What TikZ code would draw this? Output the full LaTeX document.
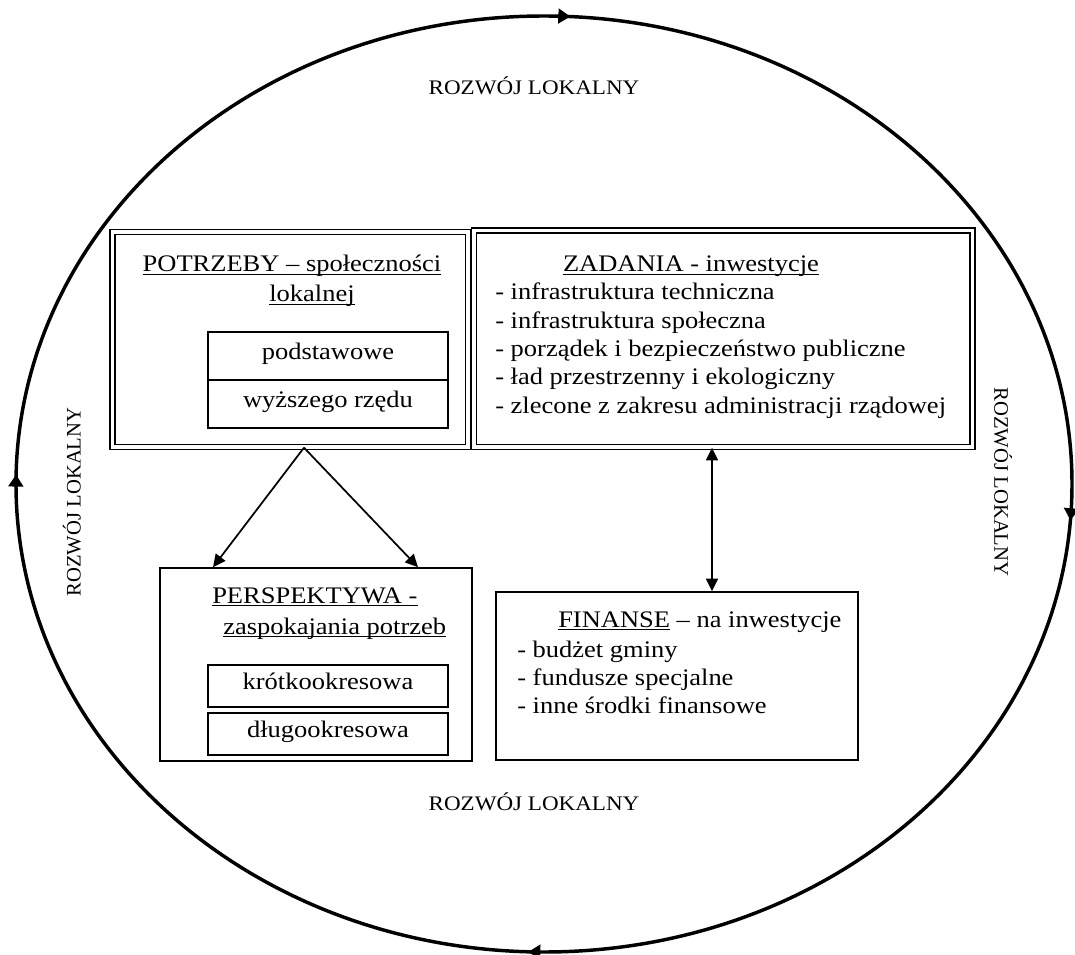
\documentclass[tikz,border=0pt]{standalone}
\usepackage{fontspec}
\setmainfont{Liberation Serif}
\newfontfamily\widefont{Liberation Serif}[FakeStretch=1.116]
\usetikzlibrary{arrows.meta,decorations.markings,calc}
\newcommand\myul[1]{{\setbox0\hbox{#1}\rlap{\rule[-2.6pt]{\wd0}{0.9pt}}\box0}}
\begin{document}
\begin{tikzpicture}[x=0.75pt,y=-0.75pt,
  boxfont/.style={font=\widefont\fontsize{17.8pt}{21pt}\selectfont},
  rfont/.style={font=\widefont\fontsize{15.5pt}{18pt}\selectfont},
  vfont/.style={font=\fontsize{15.5pt}{18pt}\selectfont},
  dbox/.style={draw=black, line width=1pt, double=white, double distance=2.6pt, inner sep=0pt, rectangle},
  sbox/.style={draw=black, line width=1.2pt, inner sep=0pt, rectangle},
  ibox/.style={draw=black, line width=1.1pt, inner sep=0pt, rectangle, minimum width=180pt, boxfont, text height=0.68em, text depth=0.2em},
  txt/.style={inner sep=0pt, boxfont, anchor=base west},
  ctxt/.style={inner sep=0pt, boxfont, anchor=base},
  conn/.style={line width=1.3pt, -{Triangle[length=9.5pt,width=9pt]}},
  dconn/.style={line width=1.3pt, {Triangle[length=9.5pt,width=9pt]}-{Triangle[length=9.5pt,width=9pt]}},
  ring/.style={line width=2.6pt}
]
\useasboundingbox (0,0) rectangle (1075,955);

% outer cycle
\draw[ring, postaction={decorate}, decoration={markings,
   mark=at position 0.0116 with {\arrow{Triangle[length=9pt,width=11pt]}},
   mark=at position 0.255 with {\arrow{Triangle[length=9pt,width=11pt]}},
   mark=at position 0.503 with {\arrow{Triangle[length=9pt,width=11pt]}},
   mark=at position 0.7584 with {\arrow{Triangle[length=9pt,width=11pt]}}}]
  (544,484) ellipse [x radius=528, y radius=468];

\node[inner sep=0pt, rfont, anchor=base] (rtop) at (534,95) {ROZWÓJ LOKALNY};
\node[inner sep=0pt, rfont, anchor=base] (rbot) at (534,810) {ROZWÓJ LOKALNY};
\node[inner sep=0pt, vfont, rotate=90] (rleft) at (72,502) {ROZWÓJ LOKALNY};
\node[inner sep=0pt, vfont, rotate=-90] (rright) at (1003,482) {ROZWÓJ LOKALNY};

% main boxes
\node[dbox, minimum width=266.6pt, minimum height=161.25pt] (pot) at (290.25,339.5) {};
\node[dbox, minimum width=373.9pt, minimum height=162.4pt] (zad) at (723.25,338.75) {};
\node[sbox, minimum width=234pt, minimum height=144.75pt] (per) at (316,664.5) {};
\node[sbox, minimum width=271.5pt, minimum height=126pt] (fin) at (677,676) {};

% POTRZEBY
\node[ctxt] (pott1) at (292,272) {\myul{POTRZEBY – społeczności}};
\node[ctxt] (pott2) at (312,302) {\myul{lokalnej}};
\node[ibox, minimum height=36pt] (pod) at (328,356) {podstawowe};
\node[ibox, minimum height=36pt] (wyz) at (328,404) {wyższego rzędu};

% ZADANIA
\node[ctxt] (zadt) at (691,272) {\myul{ZADANIA - inwestycje}};
\node[txt] (z1) at (495,300) {- infrastruktura techniczna};
\node[txt] (z2) at (495,328.3) {- infrastruktura społeczna};
\node[txt] (z3) at (495,356.6) {- porządek i bezpieczeństwo publiczne};
\node[txt] (z4) at (495,384.9) {- ład przestrzenny i ekologiczny};
\node[txt] (z5) at (495,413.2) {- zlecone z zakresu administracji rządowej};

% PERSPEKTYWA
\node[txt] (pert1) at (212,603) {\myul{PERSPEKTYWA -}};
\node[txt] (pert2) at (223,634) {\myul{zaspokajania potrzeb}};
\node[ibox, minimum height=31.5pt] (kro) at (328,686) {krótkookresowa};
\node[ibox, minimum height=31.5pt] (dlu) at (328,734) {długookresowa};

% FINANSE
\node[txt] (fint) at (558,627) {\myul{FINANSE} – na inwestycje};
\node[txt] (f1) at (517,657) {- budżet gminy};
\node[txt] (f2) at (517,685) {- fundusze specjalne};
\node[txt] (f3) at (517,713) {- inne środki finansowe};

% connectors
\draw[conn] (pot.south -| 304,0) -- (per.north -| 213,0);
\draw[conn] (pot.south -| 304,0) -- (per.north -| 418,0);
\draw[dconn] (zad.south -| 712,0) -- (fin.north -| 712,0);
\end{tikzpicture}
\end{document}
